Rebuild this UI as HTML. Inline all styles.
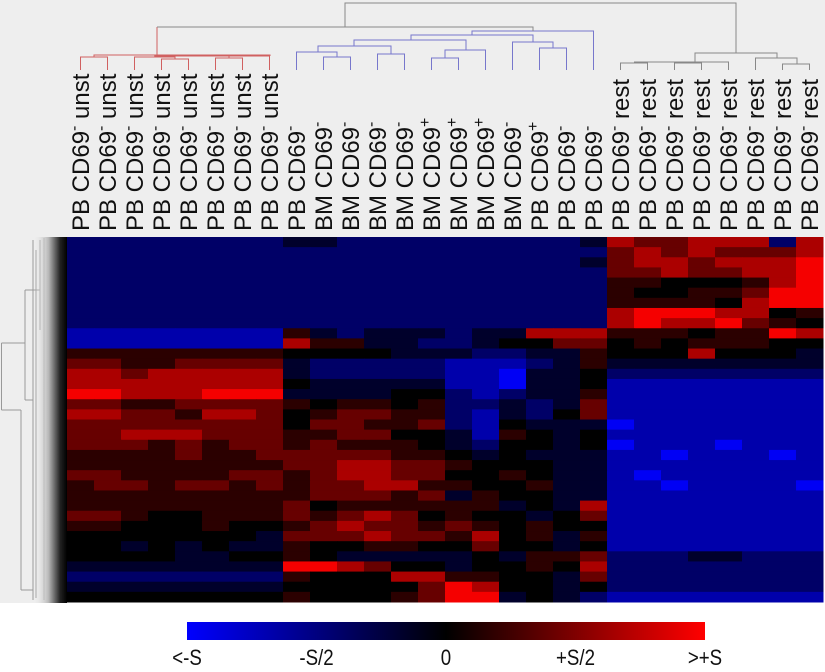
<!DOCTYPE html>
<html><head><meta charset="utf-8"><style>
html,body{margin:0;padding:0;background:#fff;}
svg{display:block;font-family:"Liberation Sans",sans-serif;}
</style></head><body>
<svg id="chart" width="825" height="672" viewBox="0 0 825 672">
<defs>
<linearGradient id="lg" x1="0" x2="1" y1="0" y2="0"><stop offset="0" stop-color="#eeeeee" stop-opacity="0"/><stop offset="0.45" stop-color="#bbbbbb"/><stop offset="0.8" stop-color="#222"/><stop offset="1" stop-color="#000"/></linearGradient>
<linearGradient id="cb" x1="0" x2="1" y1="0" y2="0"><stop offset="0" stop-color="#0000ff"/><stop offset="0.5" stop-color="#000000"/><stop offset="1" stop-color="#ff0000"/></linearGradient>
</defs>
<rect x="0" y="0" width="825" height="237" fill="#eeeeee"/>
<rect x="0" y="237" width="67" height="366" fill="#eeeeee"/>
<g id="left-dendro" stroke="#999" stroke-width="1" fill="none">
<path d="M1.5 343V410M1.5 343H25M1.5 410H21M25 343V290M25 343V400M21 410V590M21 590H33M25 290H40M25 400H33M33 240V600M40 240V330M36 250V598M44 238V600M48 240V560M52 238V600"/>
<rect x="33" y="237" width="34" height="366" fill="url(#lg)" stroke="none"/>
</g>
<g id="heat"></g>
<g id="top-dendro" fill="none" stroke-width="1"></g>
<g id="labels"></g>
<rect x="187" y="622" width="518" height="18" fill="url(#cb)"/>
<g id="cbl" font-size="22" text-anchor="middle" fill="#111"></g>
</svg>
<script>
const categories = [
"PB CD69|-| unst","PB CD69|-| unst","PB CD69|-| unst","PB CD69|-| unst","PB CD69|-| unst","PB CD69|-| unst","PB CD69|-| unst","PB CD69|-| unst",
"PB CD69|-|","BM CD69|-|","BM CD69|-|","BM CD69|-|","BM CD69|-|","BM CD69|+|","BM CD69|+|","BM CD69|+|","BM CD69|-|","PB CD69|+|","PB CD69|-|","PB CD69|-|",
"PB CD69|-| rest","PB CD69|-| rest","PB CD69|-| rest","PB CD69|-| rest","PB CD69|-| rest","PB CD69|-| rest","PB CD69|-| rest","PB CD69|-| rest"];
// expression levels 0..8 (4 = 0, 0 = <-S, 8 = >+S), one string per row band, one char per column
const rowValues = [
"22222222332222222223"+"76677727",
"22222222222222222222"+"67676667",
"22222222222222222223"+"67767778",
"22222222222222222222"+"66766778",
"22222222222222222222"+"55444578",
"22222222222222222222"+"54455688",
"22222222222222222222"+"55554788",
"22222222222222222222"+"78887745",
"22222222222222222222"+"78778654",
"11111111532333233777"+"55545587",
"11111111755332234466"+"45455544",
"55555555444433322335"+"44474443",
"66556666322222111235"+"33333333",
"77677777322222110334"+"22222222",
"77777777433333110334"+"11111111",
"88777888333344212335"+"11111111",
"66556666545545223236"+"11111111",
"77665776456655213246"+"11111111",
"66666666466556214333"+"01111111",
"66777666556644315434"+"11111111",
"66656566565554324434"+"01110111",
"55556556666655434333"+"11011101",
"55555555667766544433"+"11111111",
"66555566567766445433"+"10111111",
"56656656566775544533"+"11011110",
"55555555566656354433"+"11111111",
"55555555645555553437"+"11111111",
"66544555656764544346"+"11111111",
"55444544567665654544"+"11111111",
"44444443666766574535"+"11111111",
"44343433544554464434"+"11111111",
"44443344543333343556"+"22233222",
"33333333887644344547"+"22222222",
"22222222544477554436"+"22222222",
"33333333444446874434"+"22222222",
"44444444544456883432"+"11111111"];
const scaleLabels = ["<-S","-S/2","0","+S/2",">+S"];

const NS="http://www.w3.org/2000/svg";
const X0=67, X1=823, Y0=237, Y1=602;
const colW=(X1-X0)/categories.length;
const rowH=(Y1-Y0)/rowValues.length;
const xCol=i=>X0+i*colW;
const xMid=i=>X0+(i+0.5)*colW;
const yRow=r=>Y0+r*rowH;
function color(d){const v=(d-4)/4;const c=Math.round(Math.pow(Math.abs(v),1.25)*245);return v<0?`rgb(0,0,${c})`:`rgb(${c},0,0)`;}
const heat=document.getElementById('heat');
rowValues.forEach((row,r)=>{
  for(let c=0;c<categories.length;c++){
    const el=document.createElementNS(NS,'rect');
    el.setAttribute('x',xCol(c).toFixed(2));
    el.setAttribute('y',yRow(r).toFixed(2));
    el.setAttribute('width',(colW+0.5).toFixed(2));
    el.setAttribute('height',(rowH+0.5).toFixed(2));
    el.setAttribute('fill',color(+row[c]));
    
    
    heat.appendChild(el);
  }
});
// column labels
const lab=document.getElementById('labels');
categories.forEach((s,i)=>{
  const p=s.split('|');
  const t=document.createElementNS(NS,'text');
  t.setAttribute('transform',`translate(${(xMid(i)+8.5).toFixed(1)},231) rotate(-90)`);
  t.setAttribute('font-size','24');
  t.setAttribute('fill','#111');
  t.innerHTML=`${p[0]}<tspan font-size="16" dy="-10">${p[1]}</tspan><tspan dy="10">${p[2]}</tspan>`;
  
  
  lab.appendChild(t);
});
// top dendrogram
const td=document.getElementById('top-dendro');
function seg(d,col){const e=document.createElementNS(NS,'path');e.setAttribute('d',d);e.setAttribute('stroke',col);


td.appendChild(e);}
const L=70, m=xMid;
function join(a,b,y,ya,yb,col){seg(`M${a} ${ya}V${y}H${b}V${yb}`,col);}
const R='#d06060',B='#7777cc',G='#888';
join(m(0),m(1),57,L,L,R);
join(m(3),m(4),59,L,L,R);
join(m(2),(m(3)+m(4))/2,57,L,59,R);
join(m(5),m(6),58,L,L,R);
join((m(5)+m(6))/2,m(7),56,58,L,R);
join((m(2)+(m(3)+m(4))/2)/2,(m((5))+m(7))/2,56,57,56,R);
join((m(0)+m(1))/2,270,55,57,56,R);
seg(`M157 55V27`,R);
join(m(9),m(10),57,L,L,B);
join(m(8),(m(9)+m(10))/2,52,L,57,B);
join(m(11),m(12),54,L,L,B);
join(318,391,46,52,54,B);
join(m(13),m(14),58,L,L,B);
join(445,m(15),50,58,L,B);
join(354,466,40,46,50,B);
join(m(17),m(18),48,L,L,B);
join(m(16),553,42,L,48,B);
join(411,533,35,40,42,B);
join(472,m(19),31,35,L,B);
seg(`M157 27H533V31`,G);
seg(`M345 27V3H736V53`,G);
join(m(20),m(21),63,L,L,G);
join(m(22),m(23),63,L,L,G);
join(m(21)-13,m(24),62,63,L,G);
join(m(26),m(27),64,L,L,G);
join(m(25),797,58,L,64,G);
join(695,777,53,62,58,G);
const cbl=document.getElementById('cbl');
scaleLabels.forEach((s,i)=>{
  const x=187+i*518/(scaleLabels.length-1);
  const t=document.createElementNS(NS,'text');
  t.setAttribute('transform',`translate(${x.toFixed(1)},665) scale(0.85,1)`);
  t.textContent=s;
  
  
  cbl.appendChild(t);
});
</script>
</body></html>
